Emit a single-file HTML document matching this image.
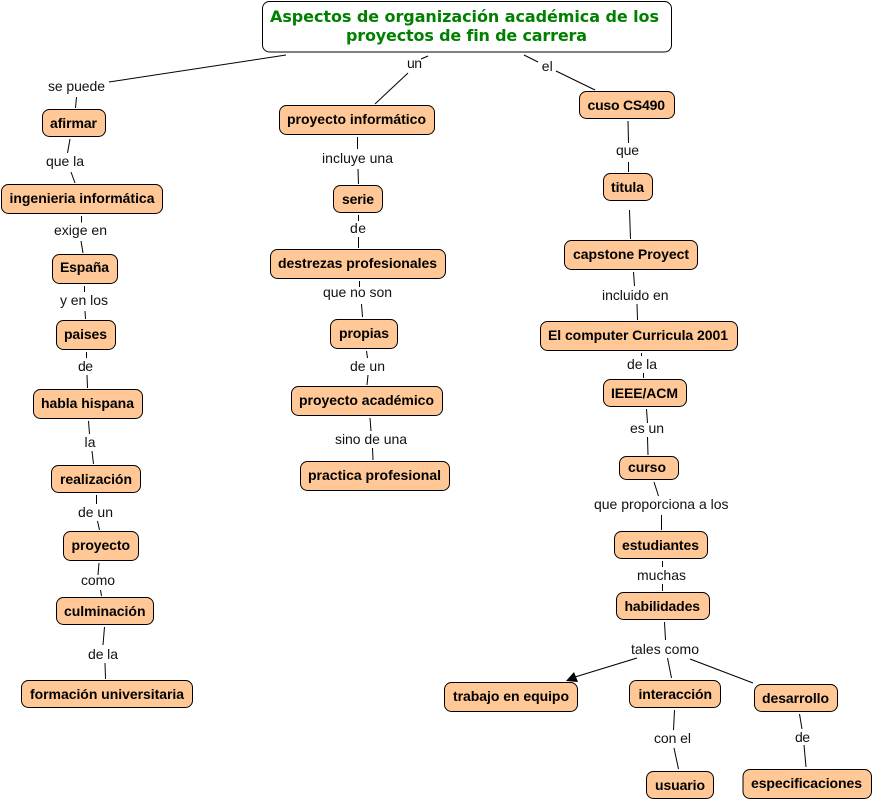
<!DOCTYPE html>
<html lang="es"><head><meta charset="utf-8"><title>Aspectos de organización académica</title>
<style>
html,body{margin:0;padding:0;background:#fff;width:873px;height:800px;overflow:hidden}
svg{display:block}
.n rect{fill:#ffc896;stroke:#000;stroke-width:1}
.n text{font:bold 14px "Liberation Sans",sans-serif;fill:#000}
.l text{font:14px "Liberation Sans",sans-serif;fill:#111}
.c line{stroke:#000;stroke-width:1}
.t text{font:bold 16px "DejaVu Sans",sans-serif;fill:#008000}
</style></head><body>
<svg width="873" height="800" viewBox="0 0 873 800" xmlns="http://www.w3.org/2000/svg">
<g class="c">
<line x1="286" y1="55" x2="109" y2="82"/><line x1="76.5" y1="97" x2="75.5" y2="108"/>
<line x1="70" y1="139" x2="67.5" y2="153"/><line x1="71" y1="172" x2="75" y2="183"/>
<line x1="81.5" y1="216" x2="81.5" y2="222.5"/><line x1="81" y1="241" x2="83" y2="253"/>
<line x1="84.5" y1="286" x2="84.5" y2="292"/><line x1="85" y1="311" x2="85.5" y2="319"/>
<line x1="86.5" y1="352" x2="86.5" y2="358"/><line x1="87" y1="375" x2="87.5" y2="388"/>
<line x1="88.5" y1="421" x2="89.5" y2="434"/><line x1="92" y1="451" x2="93.5" y2="464"/>
<line x1="96.5" y1="495" x2="96.5" y2="504"/><line x1="97.5" y1="521" x2="99.5" y2="530"/>
<line x1="99" y1="563" x2="98" y2="575"/><line x1="100.5" y1="590" x2="101.5" y2="596"/>
<line x1="104.5" y1="627" x2="103" y2="645"/><line x1="105" y1="663" x2="105.5" y2="679"/>
<line x1="428" y1="56" x2="421" y2="59"/><line x1="408" y1="73" x2="375" y2="104"/>
<line x1="357.5" y1="137" x2="357.5" y2="149"/><line x1="358" y1="169" x2="358.5" y2="184"/>
<line x1="358.5" y1="215" x2="358.5" y2="221"/><line x1="358.5" y1="237" x2="358.5" y2="248"/>
<line x1="359.5" y1="281" x2="359.5" y2="287"/><line x1="361.5" y1="304" x2="362.5" y2="317"/>
<line x1="366.5" y1="351" x2="367.5" y2="358"/><line x1="368" y1="375" x2="367" y2="385"/>
<line x1="370" y1="418" x2="371" y2="431"/><line x1="372.5" y1="448" x2="373" y2="460"/>
<line x1="524" y1="55" x2="538" y2="62"/><line x1="556" y1="71" x2="595" y2="90"/>
<line x1="628" y1="121" x2="628.5" y2="143"/><line x1="628.5" y1="162" x2="628.5" y2="172"/>
<line x1="629.5" y1="210" x2="630.5" y2="239"/>
<line x1="633.5" y1="272" x2="634.5" y2="286"/><line x1="637" y1="304" x2="637.5" y2="320"/>
<line x1="641.5" y1="353" x2="641.5" y2="356"/><line x1="643.5" y1="373" x2="643.5" y2="378"/>
<line x1="646.5" y1="409" x2="647.5" y2="423"/><line x1="647.5" y1="437" x2="648" y2="455"/>
<line x1="654" y1="482" x2="658.5" y2="496"/><line x1="661.5" y1="515" x2="661.5" y2="530"/>
<line x1="662.5" y1="561" x2="662.5" y2="567"/><line x1="662.5" y1="584" x2="662.5" y2="591"/>
<line x1="664.5" y1="622" x2="665.5" y2="640"/>
<line x1="637" y1="658" x2="575" y2="677"/><line x1="667.5" y1="658" x2="671.5" y2="678"/><line x1="690" y1="659" x2="753" y2="683"/>
<line x1="674.5" y1="710" x2="673.5" y2="730"/><line x1="674" y1="748" x2="678.5" y2="769"/>
<line x1="799.5" y1="714" x2="802" y2="729"/><line x1="804" y1="745" x2="806" y2="767"/>
</g>
<polygon points="566,681 574,672 578,682" fill="#000"/>

<g class="t">
<rect x="262.5" y="1.5" width="409" height="50.5" rx="7" fill="#fff" stroke="#000"/>
<text x="270" y="22" textLength="389">Aspectos de organización académica de los</text>
<text x="346" y="41" textLength="241">proyectos de fin de carrera</text>
</g>

<g class="n">
<rect x="42.5" y="109.5" width="63" height="27" rx="7"/><text x="50" y="128" textLength="47">afirmar</text>
<rect x="1.5" y="184.5" width="161" height="29" rx="7"/><text x="9.5" y="203" textLength="145">ingenieria informática</text>
<rect x="52.5" y="254.5" width="65" height="29" rx="7"/><text x="60" y="272" textLength="49">España</text>
<rect x="56.5" y="320.5" width="59" height="29" rx="7"/><text x="64" y="339" textLength="43">paises</text>
<rect x="33.5" y="389.5" width="109" height="29" rx="7"/><text x="41" y="408" textLength="93">habla hispana</text>
<rect x="51.5" y="465.5" width="89" height="27" rx="7"/><text x="60" y="484" textLength="72">realización</text>
<rect x="63.5" y="531.5" width="75" height="29" rx="7"/><text x="71.5" y="550" textLength="58.5">proyecto</text>
<rect x="56.5" y="597.5" width="97" height="27" rx="7"/><text x="64" y="616" textLength="81.5">culminación</text>
<rect x="21.5" y="680.5" width="171" height="27" rx="7"/><text x="30" y="699" textLength="154">formación universitaria</text>

<rect x="279.5" y="105.5" width="155" height="29" rx="7"/><text x="287" y="124" textLength="139">proyecto informático</text>
<rect x="333.5" y="185.5" width="49" height="27" rx="7"/><text x="342" y="204" textLength="32">serie</text>
<rect x="270.5" y="249.5" width="175" height="29" rx="7"/><text x="278" y="268" textLength="159">destrezas profesionales</text>
<rect x="330.5" y="319.5" width="67" height="29" rx="7"/><text x="339" y="338" textLength="50">propias</text>
<rect x="291.5" y="386.5" width="151" height="29" rx="7"/><text x="299" y="405" textLength="135">proyecto académico</text>
<rect x="300.5" y="461.5" width="149" height="29" rx="7"/><text x="308" y="480" textLength="133">practica profesional</text>

<rect x="579.5" y="91.5" width="95" height="27" rx="7"/><text x="587.5" y="110" textLength="77.5">cuso CS490</text>
<rect x="603.5" y="173.5" width="49" height="27" rx="7"/><text x="611" y="192" textLength="33">titula</text>
<rect x="564.5" y="240.5" width="133" height="29" rx="7"/><text x="573" y="259" textLength="116">capstone Proyect</text>
<rect x="540.5" y="321.5" width="197" height="29" rx="7"/><text x="548" y="340" textLength="180">El computer Curricula 2001</text>
<rect x="603.5" y="379.5" width="83" height="27" rx="7"/><text x="611" y="398" textLength="67">IEEE/ACM</text>
<rect x="619.5" y="456.5" width="59" height="23" rx="7"/><text x="628" y="472" textLength="38">curso</text>
<rect x="614.5" y="531.5" width="93" height="27" rx="7"/><text x="622" y="550" textLength="77">estudiantes</text>
<rect x="616.5" y="592.5" width="93" height="27" rx="7"/><text x="624.5" y="611" textLength="75.5">habilidades</text>
<rect x="444.5" y="682.5" width="133" height="29" rx="7"/><text x="453" y="701" textLength="116">trabajo en equipo</text>
<rect x="629.5" y="680.5" width="91" height="27" rx="7"/><text x="638.5" y="699" textLength="73.5">interacción</text>
<rect x="754.5" y="684.5" width="83" height="27" rx="7"/><text x="762" y="703" textLength="67">desarrollo</text>
<rect x="646.5" y="771.5" width="67" height="27" rx="7"/><text x="655" y="790" textLength="50">usuario</text>
<rect x="743" y="769.5" width="128.5" height="29" rx="7"/><text x="751" y="788" textLength="111">especificaciones</text>
</g>

<g class="l">
<text x="48" y="91" textLength="57">se puede</text>
<text x="46" y="166" textLength="38">que la</text>
<text x="54" y="235" textLength="53">exige en</text>
<text x="60" y="305" textLength="48">y en los</text>
<text x="78" y="371" textLength="15">de</text>
<text x="84.5" y="447" textLength="11">la</text>
<text x="78" y="517" textLength="35">de un</text>
<text x="81" y="585" textLength="34">como</text>
<text x="88" y="659" textLength="30">de la</text>
<text x="407" y="68" textLength="15">un</text>
<text x="322" y="163" textLength="71">incluye una</text>
<text x="350" y="233" textLength="16">de</text>
<text x="323" y="297" textLength="69">que no son</text>
<text x="350" y="371" textLength="35">de un</text>
<text x="335" y="444" textLength="72">sino de una</text>
<text x="541.8" y="71" textLength="11">el</text>
<text x="616" y="155" textLength="23">que</text>
<text x="602" y="300" textLength="66.5">incluido en</text>
<text x="627" y="369" textLength="30">de la</text>
<text x="630" y="433" textLength="34">es un</text>
<text x="594" y="509" textLength="134.5">que proporciona a los</text>
<text x="637" y="580" textLength="49">muchas</text>
<text x="631" y="654" textLength="68">tales como</text>
<text x="654" y="743" textLength="37">con el</text>
<text x="795" y="742" textLength="15">de</text>
</g>
</svg>
</body></html>
